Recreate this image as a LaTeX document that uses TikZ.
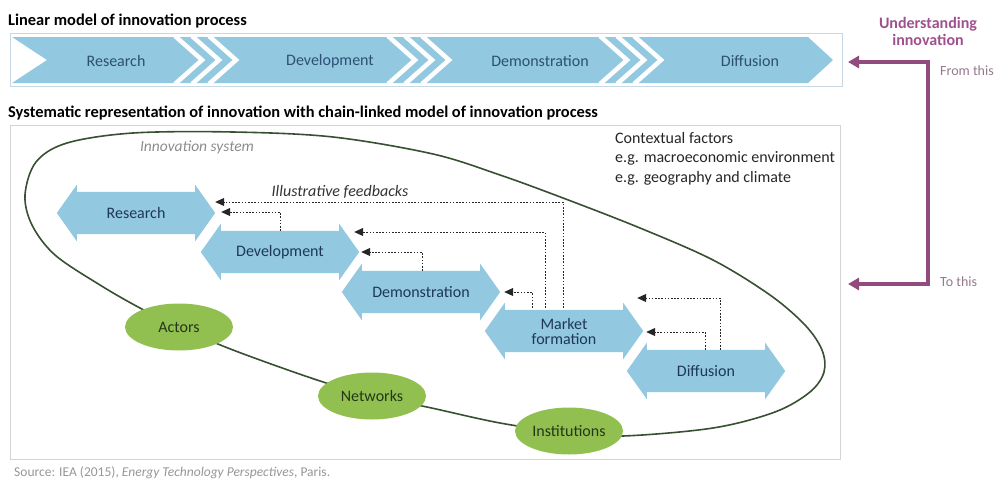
\documentclass[tikz,border=0pt]{standalone}
\usepackage{fontspec}
\setmainfont{Carlito}
\usetikzlibrary{shapes.geometric,arrows.meta,calc,backgrounds}

\definecolor{chev}{RGB}{146,200,224}
\definecolor{chevtext}{RGB}{45,80,115}
\definecolor{hextext}{RGB}{30,55,90}
\definecolor{greenfill}{RGB}{146,192,80}
\definecolor{greentext}{RGB}{35,55,25}
\definecolor{loopline}{RGB}{55,80,50}
\definecolor{purp}{RGB}{145,75,125}
\definecolor{purptext}{RGB}{160,80,140}
\definecolor{graypurp}{RGB}{150,120,140}
\definecolor{boxline}{RGB}{200,215,228}
\definecolor{boxline2}{RGB}{212,212,212}
\definecolor{srcgray}{RGB}{150,150,150}

\begin{document}
\begin{tikzpicture}[x=1pt,y=-1pt,
  titletxt/.style={anchor=west,inner sep=0pt,font=\fontsize{16.4}{19}\selectfont\bfseries},
  chevtxt/.style={inner sep=0pt,font=\fontsize{16}{19}\selectfont,text=chevtext},
  stripe/.style={white,line width=4.5pt,miter limit=10},
  hex/.style={rectangle,draw=none,minimum width=158pt,minimum height=56pt,inner sep=0pt,
    font=\fontsize{16}{15}\selectfont,text=hextext,align=center},
  hexfill/.style={fill=chev},
  actor/.style={ellipse,fill=greenfill,minimum width=108pt,minimum height=47pt,inner sep=0pt,
    font=\fontsize{16}{19}\selectfont,text=greentext},
  fb/.style={dash pattern=on 1.6pt off 1.6pt,line width=1pt,black!85,-{Triangle[length=9pt,width=8pt]}},
  purpline/.style={purp,line width=3.5pt,miter limit=10,
    {Triangle[length=11pt,width=12pt]}-{Triangle[length=11pt,width=12pt]}},
  ctx/.style={anchor=west,inner sep=0pt,font=\fontsize{16}{19}\selectfont,text=black!85}
]
\useasboundingbox (0,0) rectangle (1001,479);

% ---------- Linear model ----------
\node[titletxt] (t1) at (8,21) {Linear model of innovation process};
\draw[boxline,line width=1pt] (10,33) rectangle (842,86);
\fill[chev] (12,37) -- (808,37) -- (833,60) -- (808,83) -- (12,83) -- (47,60) -- cycle;
\foreach \s in {175,388,600}{
  \foreach \k in {0,17,34}{
    \draw[stripe] (\s+\k,36) -- (\s+\k+27,60) -- (\s+\k,84);
  }
}
\node[chevtxt] (l1) at (116,61) {Research};
\node[chevtxt] (l2) at (330,61) {Development};
\node[chevtxt] (l3) at (540,61) {Demonstration};
\node[chevtxt] (l4) at (750,61) {Diffusion};

% ---------- Understanding innovation ----------
\node[inner sep=0pt,align=center,font=\fontsize{16}{17}\selectfont\bfseries,text=purptext] (ui) at (928,31) {Understanding\\innovation};
\coordinate (pe1) at (848,62);
\coordinate (pc1) at (928,62);
\coordinate (pc2) at (928,284);
\coordinate (pe2) at (848,284);
\node[anchor=west,inner sep=0pt,font=\fontsize{14}{16}\selectfont,text=graypurp] (fromthis) at (940,71) {From this};
\node[anchor=west,inner sep=0pt,font=\fontsize{14}{16}\selectfont,text=graypurp] (tothis) at (940,282) {To this};
\draw[purpline] (pe1) -- (pc1) -- (pc2) -- (pe2);

% ---------- Systematic representation ----------
\node[titletxt] (t2) at (8,113) {Systematic representation of innovation with chain-linked model of innovation process};
\draw[boxline2,line width=1pt] (10,125) rectangle (840,459);

\node[ctx] (c1) at (615,138) {Contextual factors};
\node[ctx] (c2) at (615,158) {e.g. macroeconomic environment};
\node[ctx] (c3) at (615,178) {e.g. geography and climate};

% innovation system loop
\draw[loopline,line width=1.6pt] plot[smooth cycle,tension=0.55] coordinates {
 (25,195) (36,162) (67,143) (133,133) (233,132) (333,137) (433,154) (500,175)
 (563,198) (640,228) (713,260) (770,295) (805,325) (822,350) (824,372) (810,392)
 (775,412) (713,428) (623,436) (569,433) (500,423) (427,407) (372,396) (317,380)
 (233,350) (179,327) (140,308) (100,285) (55,255) (32,225)};
\node[inner sep=0pt,font=\fontsize{15.5}{18}\selectfont\itshape,text=black!45] (isys) at (197,147) {Innovation system};

% hexagon double arrows
\node[hex] (research) at (136,213) {Research};
\node[hex] (development) at (280,252) {Development};
\node[hex] (demonstration) at (421,292) {Demonstration};
\node[hex] (market) at (564,331) {Market\\formation};
\node[hex] (diffusion) at (706,371) {Diffusion};
\begin{scope}[on background layer]
\foreach \n in {research,development,demonstration,market,diffusion}{
  \fill[hexfill] (\n.west) -- ([xshift=20pt]\n.north west) -- ([xshift=20pt,yshift=-7pt]\n.north west)
    -- ([xshift=-20pt,yshift=-7pt]\n.north east) -- ([xshift=-20pt]\n.north east) -- (\n.east)
    -- ([xshift=-20pt]\n.south east) -- ([xshift=-20pt,yshift=7pt]\n.south east)
    -- ([xshift=20pt,yshift=7pt]\n.south west) -- ([xshift=20pt]\n.south west) -- cycle;
}
\end{scope}

\node[inner sep=0pt,font=\fontsize{16}{19}\selectfont\itshape,text=black!80] (ifb) at (340,192) {Illustrative feedbacks};

% feedback arrows
\coordinate (f1) at (563,202);
\coordinate (f2) at (280,212);
\coordinate (f3) at (545,232);
\coordinate (f4) at (422,252);
\coordinate (f5) at (532,292);
\coordinate (f6) at (720,298);
\coordinate (f7) at (705,332);
\draw[fb] ([yshift=-5pt]f1 |- market.north) -- (f1) -- (f1 -| research.east);
\draw[fb] ([yshift=-7pt]f2 |- development.north) -- (f2) -- ([xshift=6pt]f2 -| research.east);
\draw[fb] ([yshift=-5pt]f3 |- market.north) -- (f3) -- ([xshift=-5pt]f3 -| development.east);
\draw[fb] ([yshift=-7pt]f4 |- demonstration.north) -- (f4) -- ([xshift=2pt]f4 -| development.east);
\draw[fb] ([yshift=-5pt]f5 |- market.north) -- (f5) -- ([xshift=4pt]f5 -| demonstration.east);
\draw[fb] ([yshift=-7pt]f6 |- diffusion.north) -- (f6) -- ([xshift=-6pt]f6 -| market.east);
\draw[fb] ([yshift=-7pt]f7 |- diffusion.north) -- (f7) -- ([xshift=3pt]f7 -| market.east);

% actors, networks, institutions
\node[actor] (actors) at (179,327) {Actors};
\node[actor] (networks) at (372,396) {Networks};
\node[actor] (institutions) at (569,431) {Institutions};

% source
\node[anchor=west,inner sep=0pt,font=\fontsize{13.5}{15}\selectfont,text=srcgray] (src) at (14,473) {Source: IEA (2015), \textit{Energy Technology Perspectives}, Paris.};
\end{tikzpicture}
\end{document}
